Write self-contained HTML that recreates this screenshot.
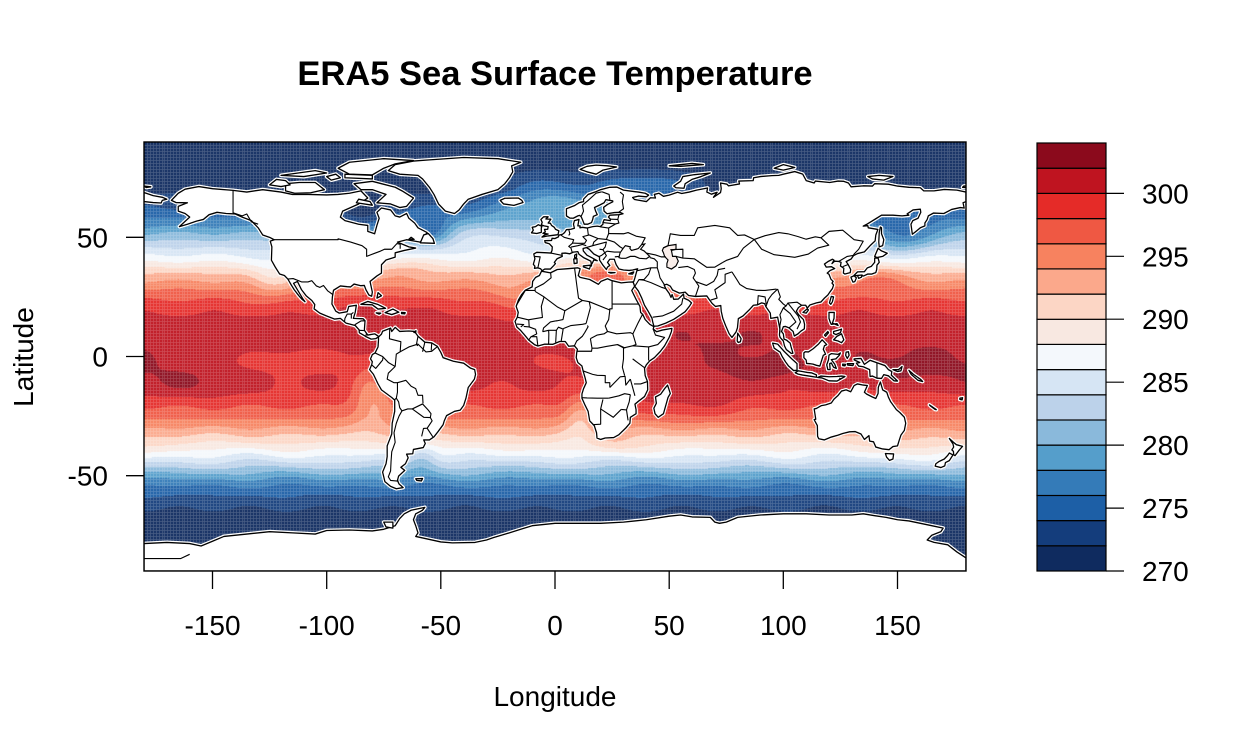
<!DOCTYPE html>
<html>
<head>
<meta charset="utf-8">
<style>
html,body{margin:0;padding:0;background:#fff;}
#wrap{position:relative;width:1250px;height:750px;overflow:hidden;background:#fff;font-family:"Liberation Sans",Arial,sans-serif;}
#bg{position:absolute;left:144px;top:142px;width:822px;height:429px;
background:linear-gradient(to bottom,#0f2b5f 0%,#0f2b5f 12%,#347bb8 22%,#bcd2ea 28%,#fcd6c5 33%,#ef5843 38%,#bf1420 50%,#ef5843 62%,#fcd6c5 68%,#d6e5f4 73%,#347bb8 80%,#0f2b5f 88%);}
#sst{position:absolute;left:144px;top:142px;width:822px;height:429px;}
#ov{position:absolute;left:0;top:0;}
</style>
</head>
<body>
<div id="wrap">
<div id="bg"></div>
<canvas id="sst" width="822" height="429"></canvas>
<svg id="ov" width="1250" height="750" xmlns="http://www.w3.org/2000/svg">
<defs>
<clipPath id="cp" clipPathUnits="userSpaceOnUse"><rect x="-180" y="-90" width="360" height="180"/></clipPath>
<g id="L">
<polygon points="-168,65.5 -165,68.5 -162,70.2 -156,71.3 -150,70.4 -141,69.7 -135,69 -128,70 -120,69 -115,68 -108,68 -100,67.8 -95,68 -90,68.5 -85,69.5 -82,66.5 -86,64 -93,61 -94,58.5 -92,57 -86,55.5 -82,55 -82,52.5 -79,51.5 -78,55 -77,58 -78,60.5 -76,62.3 -72,61.5 -70,59 -68,58.5 -65,60 -64,58 -61.5,56 -60,54 -56,52 -59,48 -65,49 -69,48 -64,46 -61,45.5 -66,44.5 -70,43.5 -70,41.7 -74,40.5 -76,38.5 -76,35 -78,33.8 -81,31.5 -80,27 -80.3,25.3 -81.5,25.8 -82.8,28 -83.5,29.8 -85,29.7 -88,30.4 -89.5,29.2 -91,29.3 -94,29.6 -97,27.8 -97.5,25 -97.7,22 -96,19 -94.5,18.2 -91,18.8 -90.3,21 -87,21.5 -87.5,18.5 -88.3,16 -84,15.8 -83.2,15 -83.5,11 -82,9 -79,9.5 -77.5,8.6 -77.3,8.2 -78.5,7.5 -80.5,7.3 -82.5,8.2 -85.7,10 -85.8,11.2 -87.5,13 -91.5,14 -94,16 -96.5,15.7 -100,17 -103,18.2 -105.5,20 -105.2,21.8 -106.5,23.5 -109,25.5 -111,28 -112.8,31.5 -114.5,30.7 -112.5,27.5 -110.3,24 -109.5,23 -111,24.2 -112.2,25.5 -114.2,28 -115.5,30 -117,32.5 -118.5,34 -120.6,34.6 -122.5,37.5 -124.2,40.4 -124,46 -124.7,48.4 -123,49 -125,50 -128,51 -130,54 -133,57 -137,58.5 -140,59.8 -144,60 -148,60.5 -151.5,59.5 -154,57.5 -157,56.8 -161,55.5 -164.5,54.5 -160,58.5 -162,60 -165,61 -165,63 -161,64.5 -166,64.6"/>
<polygon points="-73,78 -68,76.5 -60,76 -58,74.5 -55,71 -53,68 -51,64 -48,61 -44,60 -42,61.5 -40,64 -38,66 -32,68 -25,70 -22,72.5 -20,75 -18.5,77.5 -19,80 -15,81.5 -25,83 -40,83.5 -55,82.5 -62,82 -70,80.5"/>
<polygon points="-62,66.5 -65,63 -68,62.5 -72,64 -78,64.5 -74,68 -80,70 -85,70 -88,72.5 -80,73.5 -76,72.5 -70,71 -67,69.5"/>
<polygon points="-118,69.5 -118,72.5 -112,73 -105,73 -101,70 -107,68.7 -114,68.5"/>
<polygon points="-125,72 -122,74.3 -118,73.8 -116,72 -120,71.3"/>
<polygon points="-90,76.5 -80,76.2 -75,79 -70,80.8 -62,82.2 -75,83 -90,81.5 -95,79"/>
<polygon points="-92,75 -80,74.5 -80,76 -92,76.5"/>
<polygon points="-120,76 -105,78 -100,77 -110,75.5"/>
<polygon points="-98,74 -94,75 -96,76.5 -100,75.5"/>
<polygon points="-87,64.5 -80,63.5 -81,65 -86,66"/>
<polygon points="-59,47.7 -52.8,47.5 -53.5,49.5 -55.5,51.6 -57.5,51"/>
<polygon points="-64,49.2 -61.7,49.1 -63,50"/>
<polygon points="-85,21.9 -82,23.1 -77.5,21.8 -74.2,20.2 -77.5,19.9 -80,21.7"/>
<polygon points="-74.4,18.4 -71,19.9 -68.4,18.6 -71.5,17.6"/>
<polygon points="-78.3,18.3 -76.3,18.2 -77,17.8"/>
<polygon points="-67.2,18.5 -65.6,18.4 -65.8,17.9 -67.2,18"/>
<polygon points="-78,24.5 -77.5,26.8 -76,25.5"/>
<polygon points="-77.3,8.2 -76,9.4 -75.5,10.6 -72,11.9 -71.5,10.5 -70,12.2 -68,10.5 -64,10.7 -61.5,10.5 -60,8.5 -57,6 -54,5.7 -51.5,4.2 -50,1.7 -49,-0.5 -44.5,-2 -40,-2.8 -37,-4.9 -35.2,-5.5 -34.8,-7.5 -35.3,-9.5 -38,-13 -39,-17.5 -40,-20.5 -41.5,-22.5 -44,-23 -47.5,-24.8 -48.5,-27 -49,-28.6 -51.2,-31.5 -53,-33.7 -55,-35 -57.5,-35 -56.8,-36.5 -57.7,-38.2 -62,-39 -62.3,-40.8 -65,-41 -64.3,-42.5 -65.5,-45 -67.5,-46.5 -65.8,-47.8 -68.5,-50.2 -69,-52 -68.3,-53.5 -66.5,-55 -69.5,-55.5 -72,-54.5 -74.5,-52.5 -75.5,-48.5 -74,-45 -73.5,-42 -73.5,-37.5 -71.5,-32.5 -71.3,-28 -70.2,-23 -70.2,-18.3 -71.5,-17.2 -76,-14 -77.5,-11.5 -79.5,-7.5 -81.2,-5.5 -80.3,-3.5 -80,-2.2 -80.8,-1 -80,0.8 -78.8,1.5 -77.5,4 -77.3,7"/>
<polygon points="-61,-51.3 -58,-51.2 -58.5,-52.2 -60.5,-52"/>
<polygon points="-61.8,10.1 -60.9,10.8 -61,10.1"/>
<polygon points="-5.9,35.8 -2,35.1 1,36.5 5,36.8 10,37.2 11,36.8 10.2,34 11,33.2 15.2,32.3 19,30.3 20.1,31.5 23,32.6 25,31.8 29,30.9 32.3,31.2 34.2,31.3 34.9,29.5 33.6,27.7 35.5,24 37.2,21 37.5,18.5 38.5,17.5 39.5,15.5 41.5,13.5 43.3,12.5 43,11.5 44.5,10.4 47,11.1 51.2,11.8 51,10.5 50,8 48,4.5 46,2 43.5,-0.5 41.5,-1.8 40,-3.5 39.2,-5 39.5,-8 40.5,-10.5 40.6,-14 39.2,-16.8 36.5,-18.8 35,-20 35.5,-22.3 35.5,-24 33,-25.5 32.8,-28 31,-30 28,-32.8 25.7,-34 22,-34.2 20,-34.8 18.4,-34.2 18.2,-32 17.2,-29 15.2,-27 14.5,-23 13.2,-20.5 11.8,-17.5 11.8,-15.7 12.5,-13.5 13.7,-11 13.2,-9 12.3,-6 11.8,-4 10,-2.5 9.3,-0.5 9.5,1.5 9.8,3 8.5,4.5 6,4.3 4.5,6.3 2,6.3 -1,5.1 -4.5,5.2 -7.5,4.4 -9,5 -11.5,6.9 -13.2,8.9 -15,10.9 -16.7,12.4 -17.5,14.7 -16.5,16.5 -16.1,18.5 -16.5,19.6 -17,21 -16,23.7 -14.6,26 -13,27.8 -10,29.2 -9.8,31.5 -8.5,33.2 -6.8,34"/>
<polygon points="49.3,-12 50.5,-15.5 49.5,-17.2 47.5,-24 45.2,-25.5 43.8,-24 43.3,-21.7 44.4,-19.6 44,-17 46.3,-15.8 48,-13.5"/>
<polygon points="-5.6,36 -4.5,36.7 -2,36.7 -0.5,38.2 0.2,39 -0.3,39.5 0.9,41 3.2,42 3,43.3 4.5,43.4 6.5,43.1 8,43.8 10,44 10.5,42.9 12.5,41.5 14,40.8 15.7,40 16,38 15.6,38 16.5,39.5 17,40.5 18.5,40.2 16,41.5 14,42.5 12.4,44.3 12.3,45.3 13.7,45.7 15,45 17,43 19.5,41.8 19.5,40.5 21,38.3 22.5,36.5 23,37.5 24,38.2 23,39.5 24,40.8 26,40.8 26.2,40.1 26.8,38.5 28,36.7 30,36.3 32.5,36.1 34,36.3 36.2,36.8 35.8,35.8 35,33 34.5,31.5 34.2,31.3 34.9,29.5 36.5,27.5 38,24.5 39.2,21.5 40.8,19 42.5,16 42.8,14.5 43.3,12.7 45,12.8 48.5,14 52,15.6 55,17.5 57,18.8 58.8,21 59.8,22.5 58.5,23.6 56.5,24.5 56.3,26.2 55.5,25.5 54,24.1 52,24 51.3,26 50.8,24.8 50,26.5 48.5,28.5 47.8,30 49,30.3 50.5,29.5 51.5,27.9 54.5,26.6 57,27 58.5,25.6 61.5,25.2 66.5,25.4 67.5,24 68.8,22.3 70.3,21 72.6,21.4 72.8,19 73.5,16 74.8,12.8 76.3,9.5 77.5,8 78.2,8.9 79.3,10.3 79.9,12 80.3,15.9 82.3,17 85,19.5 86.9,21.5 88.7,21.7 90.5,22.5 91.8,22.2 92.5,20.7 94.3,18.2 94.5,16 97.5,16.5 98,14 98.5,11.5 98.3,9 98.6,8 100,6.5 100.5,4.5 101.3,2.9 103.5,1.3 104.2,1.4 103.4,4 103,5.6 101.5,6.8 100.3,7.3 100,9.5 99.2,10.5 100,12.5 101,12.6 102.5,12 104.3,10.5 104.8,8.6 106.4,9.5 107.5,10.5 109.2,11.6 109.3,13.5 108.8,15.5 106.7,17.5 105.7,19 106.6,20.5 108,21.5 109.8,21.5 110.5,20.3 111.6,21.6 113.5,22.2 114.5,22.5 116.5,22.9 118,24.5 119.5,25.8 120.5,27.2 121.5,28.5 122,30 121.3,30.8 121.8,31.5 120.8,32.5 120,34.5 119.2,35 120.5,36.1 122.5,36.9 121,37.7 118.8,37.5 118,38.8 119.5,39.8 121.5,40.8 122.2,40.4 121.3,39 122.5,40 124.2,39.9 125.3,39.5 125,38 126.5,37 126.3,35 127,34.6 129.3,35.2 129.5,36.5 128.4,38.6 127.5,39.8 129.7,40.9 130.7,42.3 132.5,43.2 135.5,43.9 138,46.5 140.2,48.5 140.5,51 141.4,53.3 137.2,54 137,54.9 135,54.7 136.8,55.6 140.5,57.8 143,59.3 148,59.3 152,59 155,59.3 154.2,59.8 156.8,61.5 160,61.8 160.2,60.5 159,58 156.7,57 155.9,55.5 156.5,51.3 158.5,52.8 160,54 162,54.8 162,56 163,57.5 163.5,59 165.8,60.2 170.3,60 173.7,61.7 177.5,62.5 179.2,62.3 178.7,64.5 180,65 180,69 176,69.8 170.5,70.1 166,69.5 161.5,69.5 160,70.8 155,71 150,71.5 146,72.3 140,72.5 139,71.5 135,71.6 129.7,71.2 128.5,72.8 126.5,73.5 124,73.6 120.3,73 114,73.6 113.5,72.8 110,73.8 108.5,76.5 105,77.6 100,76.5 98,76 95,75.9 90,75.5 87,75 86.8,73.8 80.5,73.6 80.8,72.4 76,71.6 75.3,72.3 72.5,72.8 72.8,70.4 72.5,68.8 69.4,66.8 71,68.9 68.5,68.1 66.5,69 66.8,70.7 62,69.8 58.8,69 55.5,68.4 53.7,68.9 50,67.7 47.5,67.2 45.5,68.5 43.5,68 44,66.5 41.8,66.6 40,65 37,65.5 34.8,65.9 34,66.7 36.5,67.3 40,67 41,67.7 39.5,68.5 36.5,69 33,69.4 30,69.8 27,71.1 24,71 20,70 18,69.2 14.5,68 12.5,66 12.5,65 10.5,64.5 8.5,63.3 5,62 5,61 5,59 6.5,58.1 8,58 10,59 10.8,59.2 11.5,58.6 12.2,57 12.8,55.5 14.3,55.5 16,56.2 16.5,57.5 16.8,58.8 18.5,59.5 17.8,61 17.3,62.5 19.5,63.5 21.5,64.5 22.3,65.8 25.3,65.3 25.3,64.9 23,63.8 21.3,62.6 21.5,61 22.8,59.9 26,60.4 28.5,60.5 29.8,59.9 28,59.5 24,59.3 23.4,58.5 24.3,57.6 24.2,57 21.5,57.4 21,56.2 21,55.5 19.8,54.5 18.5,54.7 16.5,54.5 14.2,53.9 12,54.2 10.9,54 11,54.8 10,54.8 10.5,57.5 8.5,57 8.1,55.5 8.5,53.8 7,53.4 5,53.2 4.2,52 3.3,51.3 1.7,50.9 1.5,50.2 0,49.5 -1.3,49.6 -1.5,48.7 -4.5,48.6 -4.3,47.8 -2.5,47.3 -1.2,46 -1.3,44.5 -1.8,43.4 -3.5,43.5 -8,43.7 -9.3,43 -8.8,41 -9.5,38.7 -8.8,37.9 -9,37 -7.5,37.2 -6.3,36.8"/>
<polygon points="-180,65 -176,64.6 -172.5,64.4 -172,65.5 -170,66 -172,66.8 -176,67.5 -180,68.8"/>
<polygon points="-180,71.5 -177,71.2 -179,70.9"/>
<polygon points="179,71.5 180,71.6 180,70.9 178.5,71"/>
<polygon points="-5.7,50.1 -3,50.6 1.3,51.1 1.7,52.7 0.2,53.4 -0.3,54.2 -1.5,55 -2,55.9 -3,56 -1.8,57.6 -4,57.7 -3,58.6 -5,58.6 -6.2,57.5 -5.6,56.3 -6,55.3 -4.8,54.8 -3,54.5 -3.2,53.4 -4.6,53.3 -4.2,52.3 -5.3,51.7 -3,51.4 -4.5,51"/>
<polygon points="-6,52.1 -6,54 -5.7,54.6 -7.3,55.3 -8.5,54.5 -10,54.2 -9.5,53 -10.3,51.9 -8,51.6"/>
<polygon points="-22.5,64 -24,65.5 -22,66.4 -16,66.5 -14.5,65.5 -14,64.6 -18,63.4"/>
<polygon points="11,78.5 14,79.8 18,80.3 23,80 27,79.5 21,78.2 18,76.5 14,77.5"/>
<polygon points="52,71.5 55,73.5 56,75.5 61,76.3 68,77 64,75.5 60,74.3 57,72.5 56.5,70.6 53,70.8"/>
<polygon points="96,79 100,80.5 105,79.3 100,78.2"/>
<polygon points="137,75.5 142,76 148,75.5 144,74 139,74.5"/>
<polygon points="50,80 60,81 65,80.5 55,79.8"/>
<polygon points="12.4,38 15.6,38.3 15.1,36.7 12.4,37.6"/>
<polygon points="8.4,39 9.7,39.2 9.6,41.1 8.2,40.9"/>
<polygon points="8.6,41.4 9.4,41.6 9.5,43 8.6,42.5"/>
<polygon points="23.5,35.3 26.3,35.2 24.5,35"/>
<polygon points="32.3,34.7 34.5,35.5 34,34.6"/>
<polygon points="130.9,34 132.5,35.5 135.5,35.6 136.8,37.2 138.5,37.8 140,39.5 140,41.3 141.5,41.3 142,39.5 141,38.3 140.9,36.5 140.5,35.2 139.8,35 138.8,34.6 137,34.6 135.2,33.8 133,33.9"/>
<polygon points="129.6,33.3 131,33.9 132,33 131.3,31.4 130.5,31.2 129.8,32.7"/>
<polygon points="132.5,34 134.5,34.2 134.2,33.3 133,32.8"/>
<polygon points="140,42 141.5,45.4 143,44.3 145.5,43.3 143.5,42 141,41.5"/>
<polygon points="142,46 143.5,46.5 144,49 143,51.5 143,54 142.5,54.3 142,52 141.8,48"/>
<polygon points="120.2,22.5 121,25.2 122,25 121.5,23 120.8,21.9"/>
<polygon points="108.6,18.5 110.5,20 111,19.5 110,18.2"/>
<polygon points="79.8,6.5 80,9.8 81.5,7.5 81.2,6.2 80.2,5.9"/>
<polygon points="120,18.5 122.3,18.5 122.2,16 121.5,14 124,13 123.5,13.8 121,13.5 120.5,14.5 120,16"/>
<polygon points="122,7 123.5,8.5 125.5,9.5 126.5,7 125.5,5.8 124,6.5"/>
<polygon points="122,10.5 124,11 125.5,11.5 125,10 123,9.2 122,9.7"/>
<polygon points="118,9 119.5,10.5 119.8,10 118.5,8.5"/>
<polygon points="95.3,5.6 97.5,5.2 100.3,2.2 103.7,-1 106,-3 106,-5.8 104.5,-5.9 102.3,-4 101,-2.3 99.5,0 98.6,1.8 96,3.5"/>
<polygon points="105.2,-6.8 106.5,-6 108.3,-6.3 110.5,-6.7 112.5,-6.9 114.5,-7.7 114.5,-8.7 112,-8.3 108.5,-7.8 106.5,-7.4"/>
<polygon points="109,1.5 109.6,2 111,1.9 113,3.2 115.5,5.3 117,7 119,5 118,4.5 117.5,3 118.5,1 117.5,0.5 117,-1 116.5,-2.5 116,-4 114.5,-3.7 113,-3.2 111.5,-3 110.2,-2.9 110,-1.5 109,-0.5"/>
<polygon points="119.5,-5.5 120.5,-5.5 120.3,-3 121,-2.7 122,-4.5 123.2,-5 122.5,-3.2 121,-1.3 123,-1 124.5,0.5 125,1.5 124,0.9 121,1.2 120,0.6 119.8,-1.3 119,-3.5"/>
<polygon points="115,-8.8 116.5,-8.2 120,-8.5 123.5,-8.4 125.5,-8.2 127,-8.4 125,-9.5 123.5,-10.3 120,-10.2 117,-9"/>
<polygon points="127.5,1.8 128.5,2 128.8,0.5 128,-0.8 127.3,0.5"/>
<polygon points="126,-3.2 127.3,-3.3 127,-3.9 126,-3.8"/>
<polygon points="128,-3 130.8,-3 130.5,-3.8 128.2,-3.6"/>
<polygon points="131,-1 134,-0.8 135.5,-3.3 138,-1.6 141,-2.6 144.5,-3.8 146,-5.5 147.5,-6.3 147.3,-7.8 150,-10.3 148.5,-10.2 146,-8.1 144,-7.6 143,-9.2 141,-9.1 139,-8.2 138,-8.4 137.8,-5.5 135,-4.3 133,-4 132,-2.8 133.5,-2.5 131,-1.4"/>
<polygon points="148,-5.5 150.5,-5.5 152,-4.2 151.5,-6 150,-6.3"/>
<polygon points="155,-5.8 157,-7.5 160,-9.5 161,-10.5 159,-10 156,-7.5"/>
<polygon points="113.5,-22 114.2,-26.3 113.5,-26.5 114.9,-29 115,-33.5 115.5,-34.5 118,-35 121,-33.8 124,-33 126,-32.3 129,-31.6 131.5,-31.5 134,-32.5 135.5,-34.8 137.5,-33.2 137.8,-35.5 139.5,-35.8 140.5,-38 143.5,-38.8 146.3,-39.1 148,-37.8 150,-37.5 150.8,-35 151.5,-33 153,-31 153.6,-28 153,-25.5 151,-23.5 149.5,-22.3 147,-19 146,-17 145.3,-15 143.5,-14 142.5,-10.7 141.6,-12.9 141.5,-15.5 140.5,-17.6 139,-17 136.5,-15.8 135.5,-15 136.8,-12.2 135,-12 132.5,-11.5 131,-12.2 129.5,-14.8 127.5,-14 125.5,-14.5 124,-16.3 122.2,-17.9 121,-19.5 118.5,-20.3 116.7,-20.6 114.5,-21.8"/>
<polygon points="144.7,-40.7 148.3,-40.9 148,-43 146.5,-43.6 145.2,-42.2"/>
<polygon points="172.7,-34.4 174.5,-36 175.8,-37 178.5,-37.7 177,-39.3 175.2,-41.6 174.6,-41.2 174.5,-39.8 173.8,-39.2 174.6,-38 174.3,-36.7"/>
<polygon points="172.7,-40.5 174.3,-41.3 173.5,-42.5 172.7,-43.7 171,-44.5 170.7,-45.9 169,-46.6 166.5,-46 166.8,-45 168.3,-44 170.5,-43 172,-41.5"/>
<polygon points="164,-20.3 167,-22.3 166.5,-22.2 164.5,-20.8"/>
<polygon points="177.3,-17.5 178.5,-17.3 178.3,-18.2 177.3,-18"/>
<polygon points="-180,-78.5 -170,-78 -160,-78.5 -155,-79.5 -150,-77.5 -145,-75.5 -135,-74.5 -125,-73.5 -115,-74 -105,-74.5 -100,-73 -90,-72.8 -80,-73.2 -75,-72.5 -70,-71 -68,-68 -66,-66 -63,-64.5 -57,-63.3 -58,-64.5 -61,-66 -62,-68.5 -61,-71 -60,-74 -61,-75.5 -50,-77.8 -45,-78.2 -35,-78 -30,-77 -27,-76 -20,-74 -15,-72.5 -10,-71 0,-70 10,-70 20,-70 30,-69.5 35,-69 40,-68.5 50,-67 55,-66.5 60,-67.3 68,-67.5 70,-69.5 72,-70 75,-69.5 80,-67.5 90,-66.5 100,-66 110,-66 120,-66.5 130,-66.5 135,-66 140,-66.8 145,-67.5 150,-68.5 155,-69 160,-70 165,-71 170,-72 169,-73.5 165,-75 163,-77 166,-78 172,-79 176,-82 180,-84.5 180,-90 -180,-90"/>
<polygon points="-75,-69.5 -71,-69.5 -71,-72 -74,-71.5"/>
</g>
</defs>

<g transform="translate(555,356.5) scale(2.28333,-2.38333)" clip-path="url(#cp)">
<use href="#L" fill="#fff" stroke="#fff" stroke-width="1.6" stroke-linejoin="round"/>
<use href="#L" fill="#fff" stroke="#000" stroke-width="0.56" stroke-linejoin="round"/>
<polygon points="47.5,45.6 49.5,46.5 53,47 53,45 51,44.5 51.5,42 53,42 54,40 53,38 51,36.7 49,37.5 49,39 49.5,40.5 48,42 47.5,43.5 47,44.5" fill="#f9eeea" stroke="#000" stroke-width="0.5"/>
<polygon points="28,41.5 28.5,43.5 29.8,45.3 30.8,46.5 33,46 32.8,45.3 33.5,44.5 35.5,45 36.5,45.3 38,47 39.3,47.2 38.5,46.2 37.5,45 39,44.3 41.5,42 40,41 37,41.2 35,42 33,42 31,41.2 29,41.2" fill="#fdfbfa" stroke="#000" stroke-width="0.5"/>
<g fill="none" stroke="#000" stroke-width="0.48" stroke-linejoin="round">
<polyline points="-123,49 -95,49 -95,49.4 -89.5,48 -84.5,46.5 -82.5,45 -82.5,42 -79,43.3 -76.5,44.2 -74.7,45 -71.5,45 -69.2,47.4 -67.8,47.1 -67.8,45.2"/>
<polyline points="-141,69.7 -141,60.3 -137,59 -135,59.8 -133,56.5 -130,55.5"/>
<polyline points="-117.1,32.5 -114.7,32.7 -111,31.3 -108.2,31.3 -106.5,31.8 -104.5,29.6 -103,29 -101.4,29.8 -99.5,27.5 -97.2,25.9"/>
<polyline points="-92.2,14.5 -92,16 -91,17.8 -89.2,17.8 -88.3,18.5"/>
<polyline points="-89.2,17.8 -89.2,15.9"/>
<polyline points="-87.7,13.3 -85,14.9 -83.2,15"/>
<polyline points="-85.7,11 -83.7,10.9"/>
<polyline points="-82.9,8.1 -82.6,9.6"/>
<polyline points="-72.4,11.5 -72.5,7.4 -67.5,6.2 -67.8,2 -69.5,1 -70,-4.2"/>
<polyline points="-78.8,1.5 -75.5,0 -73,-2.5 -70,-4.2"/>
<polyline points="-80.3,-3.5 -78.5,-5 -75.5,-1.5 -75.3,-0.1"/>
<polyline points="-70,-4.2 -73,-7 -73.5,-9.5 -70.5,-11 -69,-11 -69,-15 -69.5,-17.5 -70.4,-18.3"/>
<polyline points="-69.5,-17.5 -68.5,-19 -68,-21.5 -67,-22.8"/>
<polyline points="-69,-11 -65.3,-10 -63,-12.5 -61,-13.5 -60,-16.3 -58,-16.3 -57.8,-19.7"/>
<polyline points="-58,-19.9 -62.5,-22 -64.5,-22 -67,-22.8"/>
<polyline points="-67,-22.8 -68.3,-25 -69.5,-28 -70.5,-32 -70,-36 -71.5,-40 -71.8,-44 -72,-48 -73,-50.5 -72,-52 -68.5,-52.3"/>
<polyline points="-62.5,-22 -57.5,-25.5 -54.6,-25.6 -54.3,-24 -55.5,-22.5 -58,-19.9"/>
<polyline points="-54.6,-25.6 -53.8,-27 -56,-30.1 -57.6,-30.2 -58.4,-33.5"/>
<polyline points="-56,-30.1 -53.5,-33.7"/>
<polyline points="-60,8.5 -60.7,5 -60,4.5"/>
<polyline points="-67.8,2 -64,4 -60,5.2 -56.5,1.9 -54,2.2 -51.7,4"/>
<polyline points="-57,6 -58,2"/>
<polyline points="-54,5.7 -54.2,2.5"/>
<polyline points="-1.9,35 -1.7,33 -5,30.5 -8.7,28.7 -8.7,27.3"/>
<polyline points="-8.7,27.7 -13,27.7 -17,21.3"/>
<polyline points="-8.7,27.3 -4.8,25 -6,21 -5.5,16.4 -11.7,15.4 -16.5,16.5"/>
<polyline points="8.6,36.9 9.5,30.2 10.3,24.5 12,23.5"/>
<polyline points="-4.8,25 1.2,20.7 4.3,19.2 12,23.5"/>
<polyline points="25,31.6 25,22"/>
<polyline points="12,23.5 15,23 24,19.5 24,20 25,20 25,22"/>
<polyline points="25,22 36.9,22"/>
<polyline points="24,19.5 23.5,15.5 22,12.8 23,10.5"/>
<polyline points="15,23 15.5,20.5 13.6,13.8"/>
<polyline points="4.3,19.2 3.5,15.5 1,15 0.2,14.9"/>
<polyline points="3.6,11.7 7,13 12,13.5 13.6,13.8"/>
<polyline points="2.7,6.4 3.6,11.7"/>
<polyline points="8.5,4.5 9.5,6.5 12,8.5 13,10 14.5,12.5 14.2,13"/>
<polyline points="15.5,7.5 18.5,9 21.5,9.5 23,10.5"/>
<polyline points="9.8,2.2 16,2.2 16.2,3.5 15.5,7.5"/>
<polyline points="16.2,3.5 18.6,3.5 22.5,4.2 27.4,5 30.8,3.5"/>
<polyline points="23,10.5 27,9.5 33,10 34.1,9.5"/>
<polyline points="27.4,5 30,3.6 34,4.5 35.5,5 34.1,9.5 36.5,14.3 38.5,18"/>
<polyline points="34,4.5 41,4 41,-1.7"/>
<polyline points="41,4 45,5 48,8 44,9 43,11.5"/>
<polyline points="34,-1 39.2,-4.7"/>
<polyline points="30,3.6 30,-1 29.5,-4.5 30.5,-8"/>
<polyline points="12.2,-6 16.5,-7.5 18.5,-7.9 22,-8 22,-11 24,-11 24,-13"/>
<polyline points="11.8,-17.3 14,-17.4 18.5,-17.5 23.5,-17.5"/>
<polyline points="16.5,-28.6 20,-28.4 20,-24.8 20,-22 21,-18"/>
<polyline points="20,-22 25.5,-25.5 29,-22.2"/>
<polyline points="29,-22.2 31.3,-22.4 32,-26.8"/>
<polyline points="23.5,-17.5 28,-16.5 30.5,-15.6 33,-16"/>
<polyline points="33,-16 32.5,-19 31.3,-22.4"/>
<polyline points="24,-13 28.6,-8.5 30.7,-8.3 31,-12 33,-9.5"/>
<polyline points="40.5,-10.5 37.5,-11.5 34.6,-11.5"/>
<polyline points="33,-9.5 35,-16.5"/>
<polyline points="-11.5,15.5 -11.3,12.4"/>
<polyline points="-13.7,12.6 -11.3,12.4 -8.5,11.4 -8,9.5 -10.5,8.3"/>
<polyline points="-5.4,10.4 -5,12 -2,14.5 0.2,14.9"/>
<polyline points="-2.8,5 -2.7,9.5 -2.8,11"/>
<polyline points="0.3,5.9 0.6,11"/>
<polyline points="-5.4,10.4 -2.8,11 0.6,11 1.5,12.3 3.5,11.5"/>
<polyline points="-11.5,6.9 -10.5,8.3 -8,8.3 -7.5,4.4"/>
<polyline points="-16.7,13.6 -13.7,13.4 -15,12.4"/>
<polyline points="-1.8,43.4 3.2,42.4"/>
<polyline points="-8.8,42 -6.5,41.8 -7,39.5 -7.5,37.2"/>
<polyline points="2.5,51 4,50 6,49.5 8.2,49 7.6,47.5 6,46.2 7,45.5 7.5,43.8"/>
<polyline points="7,45.9 10,46.5 12,47 13.7,46.5"/>
<polyline points="14.2,53.9 14.6,51 15,51"/>
<polyline points="7.6,47.6 10,47.5 13,47.5 13.8,48.7 12.2,50.3 15,51"/>
<polyline points="6,53.4 6.5,51.5 6,50.8"/>
<polyline points="15,51 18.8,49.5 22.5,49.1 23.5,51.6 23.5,53.9 19.8,54.4"/>
<polyline points="11.5,58.9 12.5,61 12,63.5 14.5,65.5 18,68.5 20.5,69.1"/>
<polyline points="24,65.8 23.7,68 20.6,69.1"/>
<polyline points="28,60.6 30,62 29.5,65 30,67.8 28.5,69"/>
<polyline points="28,59.5 27.5,57.5 28,56 26.5,55.6 23.5,53.9"/>
<polyline points="24.3,57.6 27.5,57.5"/>
<polyline points="21,56.2 26.5,55.6"/>
<polyline points="23.5,51.6 30,51.5 32,52 35.5,50.5 39.5,49.8 38,47.1"/>
<polyline points="22.5,49.1 26,48 28.5,46 29.7,45.3"/>
<polyline points="22.7,44.2 26,43.8 28.6,43.8"/>
<polyline points="19,41.8 20.5,42.5 22.7,44.2"/>
<polyline points="13.7,45.7 16.5,46.5 22.5,48 22,46 21,44.8 19.5,45"/>
<polyline points="21,44.8 22.5,42.3 21,40.5"/>
<polyline points="26.2,41.8 28,42"/>
<polyline points="16.5,46.5 17,48 18.8,49.5"/>
<polyline points="47.5,45.6 49.5,46.5 50.5,51.5 55,50.8 61,50.8 62.5,54 70,55 76.5,54 80,50.8 83,51 87.3,49.1"/>
<polyline points="87.3,49.1 92,50.7 98,52 102,51.5 106.5,50.3 110,49.2 114,50.2 116.5,49.8"/>
<polyline points="116.5,49.8 120,52.5 126,53 131,49 135,48.4 133,45 131,43 130.6,42.4"/>
<polyline points="87.3,49.1 90.5,45 96,42.7 105,41.6 111,43 115,45.5 119.9,46.7 116.5,49.8"/>
<polyline points="87.3,49.1 82.5,45.5 80,42 75,40.3 73.5,39.5"/>
<polyline points="50.5,44.8 56,45 56,41.3 61,41 66.5,37.4 70,37.5 73.5,39.5"/>
<polyline points="53,42 56,41.3"/>
<polyline points="54,37.3 58,37.8 61,36.5 61.5,35 60.5,33 61.7,31.4 63,29.5 61.5,25.2"/>
<polyline points="61.7,31.4 66.3,29.8 69.5,31.5 71,34 71.5,36.5 74.5,37"/>
<polyline points="68.2,23.7 71,24.5 70,28 74.5,31 74.5,34.5 77.5,35.5"/>
<polyline points="77.5,35.5 79.5,32.5 81,30.2 84,28.5 88,27.8 92,27.7 97,28.3"/>
<polyline points="88.7,21.7 89,25.5 92,25 92.5,22"/>
<polyline points="92.3,20.7 93.5,24 95,26 97.5,28.3"/>
<polyline points="97.5,28.3 98.7,25 98,24 100,22 101.2,21.2 100,20.4 98.5,17.5 99,15.5 98.5,13 98.5,10"/>
<polyline points="101.2,21.2 102,22.4 106,22.8 108,21.5"/>
<polyline points="102,22.4 104,20 106.5,17 107.5,14.5 106,11.5"/>
<polyline points="100,20.4 103,18 105.5,14.5 102.5,12"/>
<polyline points="36,36 42,37.2 44.8,37.2"/>
<polyline points="44.8,37.2 45.5,35 46,33 48,30"/>
<polyline points="42,37.2 41,34.5 39,32.3 36.8,32.3 35,29.5"/>
<polyline points="36.8,32.3 39,32 42,31 46.5,29.1 48.4,28.5"/>
<polyline points="42.8,16.5 47,17 52,19 55.5,22 56,24.5"/>
<polyline points="41.5,41.5 43.5,41 44.8,39.7 44.8,37.2"/>
<polyline points="40,43.4 44,42.6 46.5,41.8 48.5,41.8"/>
<polyline points="126,37.7 128.4,38.6"/>
<polyline points="124.3,39.9 128,42 130.6,42.4"/>
<polyline points="141,-2.6 141,-9.1"/>
<polyline points="124.5,-9 125.2,-9.5"/>
<polyline points="-180,-84.8 -164,-84.8 -160,-83"/>
</g>
</g>

<rect x="144" y="142" width="822" height="429" fill="none" stroke="#000" stroke-width="1.4"/>
<g stroke="#000" stroke-width="1.3">
<line x1="212.5" y1="571" x2="212.5" y2="589"/>
<line x1="326.7" y1="571" x2="326.7" y2="589"/>
<line x1="440.8" y1="571" x2="440.8" y2="589"/>
<line x1="555" y1="571" x2="555" y2="589"/>
<line x1="669.2" y1="571" x2="669.2" y2="589"/>
<line x1="783.3" y1="571" x2="783.3" y2="589"/>
<line x1="897.5" y1="571" x2="897.5" y2="589"/>
<line x1="126" y1="237.3" x2="144" y2="237.3"/>
<line x1="126" y1="356.5" x2="144" y2="356.5"/>
<line x1="126" y1="475.7" x2="144" y2="475.7"/>
</g>
<g font-family="Liberation Sans, Arial, sans-serif" font-size="28" fill="#000" text-anchor="middle">
<text x="212.5" y="635">-150</text>
<text x="326.7" y="635">-100</text>
<text x="440.8" y="635">-50</text>
<text x="555" y="635">0</text>
<text x="669.2" y="635">50</text>
<text x="783.3" y="635">100</text>
<text x="897.5" y="635">150</text>
<text x="555" y="706">Longitude</text>
<text transform="translate(33,357) rotate(-90)">Latitude</text>
</g>
<g font-family="Liberation Sans, Arial, sans-serif" font-size="28" fill="#000" text-anchor="end">
<text x="108" y="247.3">50</text>
<text x="108" y="366.5">0</text>
<text x="108" y="485.7">-50</text>
</g>
<text x="555" y="85" text-anchor="middle" font-family="Liberation Sans, Arial, sans-serif" font-size="34.5" font-weight="bold" fill="#000">ERA5 Sea Surface Temperature</text>

<g stroke="#000" stroke-width="1.2">
<rect x="1037" y="545.8" width="69" height="25.2" fill="#0f2b5f"/>
<rect x="1037" y="520.6" width="69" height="25.2" fill="#143d7c"/>
<rect x="1037" y="495.4" width="69" height="25.2" fill="#1d5fa6"/>
<rect x="1037" y="470.3" width="69" height="25.2" fill="#347bb8"/>
<rect x="1037" y="445.1" width="69" height="25.2" fill="#559ecb"/>
<rect x="1037" y="419.9" width="69" height="25.2" fill="#8ab9db"/>
<rect x="1037" y="394.8" width="69" height="25.2" fill="#bcd2ea"/>
<rect x="1037" y="369.6" width="69" height="25.2" fill="#d6e5f4"/>
<rect x="1037" y="344.4" width="69" height="25.2" fill="#f4f8fc"/>
<rect x="1037" y="319.2" width="69" height="25.2" fill="#f8e8e1"/>
<rect x="1037" y="294.1" width="69" height="25.2" fill="#fcd6c5"/>
<rect x="1037" y="268.9" width="69" height="25.2" fill="#fba88b"/>
<rect x="1037" y="243.7" width="69" height="25.2" fill="#f7825f"/>
<rect x="1037" y="218.6" width="69" height="25.2" fill="#ef5843"/>
<rect x="1037" y="193.4" width="69" height="25.2" fill="#e52b28"/>
<rect x="1037" y="168.2" width="69" height="25.2" fill="#bf1420"/>
<rect x="1037" y="143" width="69" height="25.2" fill="#8b0a1c"/>
<line x1="1106" y1="571" x2="1124" y2="571"/>
<line x1="1106" y1="508.1" x2="1124" y2="508.1"/>
<line x1="1106" y1="445.1" x2="1124" y2="445.1"/>
<line x1="1106" y1="382.2" x2="1124" y2="382.2"/>
<line x1="1106" y1="319.2" x2="1124" y2="319.2"/>
<line x1="1106" y1="256.3" x2="1124" y2="256.3"/>
<line x1="1106" y1="193.4" x2="1124" y2="193.4"/>
</g>
<g font-family="Liberation Sans, Arial, sans-serif" font-size="28" fill="#000">
<text x="1142" y="581">270</text>
<text x="1142" y="518.1">275</text>
<text x="1142" y="455.1">280</text>
<text x="1142" y="392.2">285</text>
<text x="1142" y="329.2">290</text>
<text x="1142" y="266.3">295</text>
<text x="1142" y="203.4">300</text>
</g>
</svg>
</div>
<script>
(function(){
var cv=document.getElementById('sst');
if(!cv||!cv.getContext)return;
var W=822,H=429;
var ctx=cv.getContext('2d');
var cols=['#0f2b5f','#143d7c','#1d5fa6','#347bb8','#559ecb','#8ab9db','#bcd2ea','#d6e5f4','#f4f8fc','#f8e8e1','#fcd6c5','#fba88b','#f7825f','#ef5843','#e52b28','#bf1420','#8b0a1c'];
var rgb=cols.map(function(h){return [parseInt(h.substr(1,2),16),parseInt(h.substr(3,2),16),parseInt(h.substr(5,2),16)];});
var P=[[-90,271],[-72,271],[-66,271.4],[-62,272.6],[-58,274.2],[-55,275.6],[-52,277.5],[-49,280],[-46,282.5],[-43,285],[-40,287.3],[-37,289.5],[-33,292],[-29,294.5],[-25,296.6],[-20,298.4],[-15,299.8],[-8,300.7],[0,301.0],[5,301.4],[10,301.3],[15,300.6],[20,299.5],[25,297.6],[30,295],[35,292],[40,287.8],[44,285],[48,282.5],[52,279.8],[56,277],[60,275],[65,273],[70,271.5],[90,271]];
function zon(lat){
  for(var i=1;i<P.length;i++){
    if(lat<=P[i][0]){var a=P[i-1],b=P[i];var f=(lat-a[0])/(b[0]-a[0]);return a[1]+f*(b[1]-a[1]);}
  }
  return 271;
}
function dl(a,b){var d=a-b;while(d>180)d-=360;while(d<-180)d+=360;return d;}
function g(d,w){return Math.exp(-(d*d)/(w*w));}
function T(lon,lat){
  var t=zon(lat);
  t+=2.0*g(dl(lon,160),30)*g(lat+4,7);
  t+=1.8*g(dl(lon,-160),22)*g(lat+12,6);
  t+=1.8*g(dl(lon,92),18)*g(lat+5,5);
  t+=0.8*g(dl(lon,75),35)*g(lat,14);
  t+=1.8*g(dl(lon,60),25)*g(lat+20,9);
  t-=2.2*g(dl(lon,-110),30)*g(lat+2,6);
  t-=5.0*g(dl(lon,-80),9)*g(lat+16,12);
  t-=4.0*g(dl(lon,11),7)*g(lat+24,9);
  t-=3.0*g(dl(lon,-124),10)*g(lat-33,9);
  t-=2.0*g(dl(lon,-19),9)*g(lat-24,8);
  t+=6.0*g(dl(lon,-2),22)*g(lat-65,9);
  t+=3.5*g(dl(lon,-28),20)*g(lat-52,9);
  t+=2.0*g(dl(lon,-65),12)*g(lat-38,5);
  t-=5.0*g(dl(lon,-55),9)*g(lat-52,6);
  t-=4.0*g(dl(lon,-85),12)*g(lat-60,7);
  t+=4.0*g(dl(lon,40),20)*g(lat-72,5);
  t-=5.0*g(dl(lon,152),14)*g(lat-50,7);
  t+=3.0*g(dl(lon,140),14)*g(lat-33,5);
  t+=4.5*g(dl(lon,22),16)*g(lat-36,6);
  t+=1.2*g(dl(lon,-78),18)*g(lat-20,8);
  t-=1.5*g(dl(lon,2),12)*g(lat+2,5);
  t-=4.0*g(dl(lon,-58),7)*g(lat+42,6);
  t+=2.0*g(dl(lon,25),12)*g(lat+38,4);
  t+=1.5*g(dl(lon,160),25)*g(lat+38,8);
  t+=3.0*g(dl(lon,20),12)*g(lat-60,5);
  t+=0.6*Math.sin(lon*0.12+lat*0.25)*g(lat+45,12);
  t+=0.4*Math.sin(lon*0.2)*Math.cos(lat*0.3);
  return t;
}
var img=ctx.createImageData(W,H);
var d=img.data;
var vl=[],hl=[];
for(var x=0;x<W;x++){vl[x]=(x>0)&&(Math.floor(x*360/W/1.25)!=Math.floor((x-1)*360/W/1.25));}
for(var y=0;y<H;y++){hl[y]=(y>0)&&(Math.floor(y*180/H/1.25)!=Math.floor((y-1)*180/H/1.25));}
for(var y=0;y<H;y++){
  var lat=90-(y+0.5)*180/H;
  for(var x=0;x<W;x++){
    var lon=-180+(x+0.5)*360/W;
    var t=T(lon,lat);
    var k=Math.floor((t-270)/2);
    if(k<0)k=0;if(k>16)k=16;
    var c=rgb[k];
    var a=(vl[x]||hl[y])?0.24:0;
    var i=(y*W+x)*4;
    d[i]=c[0]+(255-c[0])*a;
    d[i+1]=c[1]+(255-c[1])*a;
    d[i+2]=c[2]+(255-c[2])*a;
    d[i+3]=255;
  }
}
ctx.putImageData(img,0,0);
})();
</script>
</body>
</html>
